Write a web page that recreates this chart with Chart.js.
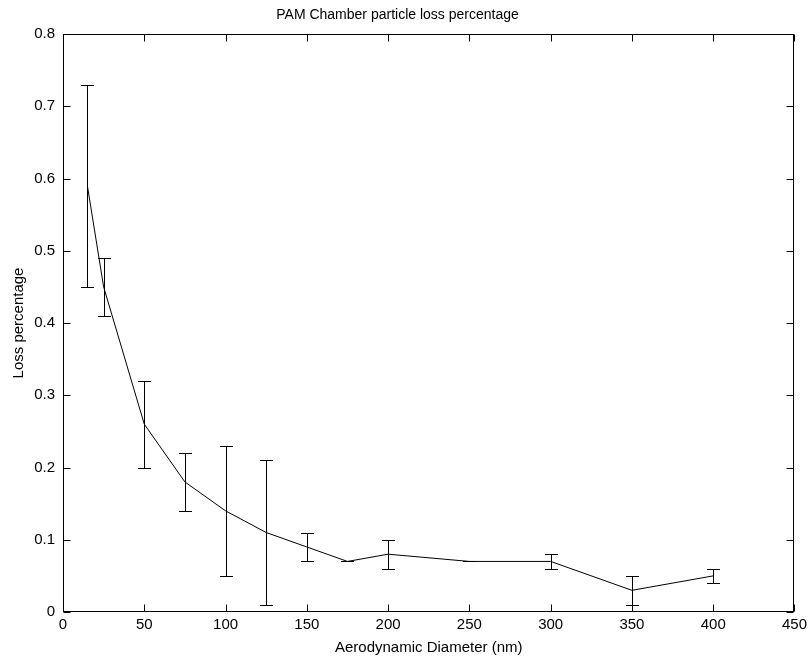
<!DOCTYPE html>
<html>
<head>
<meta charset="utf-8">
<script src="https://cdn.jsdelivr.net/npm/chart.js@4.4.1/dist/chart.umd.min.js"></script>
<style>
  body { margin: 0; background: #fff; }
  #wrap { width: 811px; height: 660px; position: relative; }
</style>
</head>
<body>
<div id="wrap"><canvas id="lossChart" width="811" height="660"></canvas></div>
<script>
// Data
const diameters = [15, 25, 50, 75, 100, 125, 150, 175, 200, 250, 300, 350, 400];
const lossValues = [0.59, 0.45, 0.26, 0.18, 0.14, 0.11, 0.09, 0.07, 0.08, 0.07, 0.07, 0.03, 0.05];
const lossErrors = [0.14, 0.04, 0.06, 0.04, 0.09, 0.10, 0.02, 0, 0.02, 0, 0.01, 0.02, 0.01];
const xTicks = [0, 50, 100, 150, 200, 250, 300, 350, 400, 450];
const yTicks = [0, 0.1, 0.2, 0.3, 0.4, 0.5, 0.6, 0.7, 0.8];

const FONT = 'Liberation Sans, Arial, Helvetica, sans-serif';

// plot box edges in the reference picture
const BOX = { left: 63, right: 795, top: 34, bottom: 612 };

// draws the error bars, the closed box and the inward ticks (matlab look)
const matlabAxes = {
    id: 'matlabAxes',
    afterDatasetsDraw(chart) {
        const ctx = chart.ctx;
        const xs = chart.scales.x;
        const ys = chart.scales.y;
        const area = chart.chartArea;
        ctx.save();
        ctx.strokeStyle = '#000';
        ctx.lineWidth = 1;

        // error bars
        const cap = 6.5;
        for (let i = 0; i < diameters.length; i++) {
            const px = Math.round(xs.getPixelForValue(diameters[i])) + 0.5;
            const yTop = Math.round(ys.getPixelForValue(lossValues[i] + lossErrors[i])) + 0.5;
            const yBot = Math.round(ys.getPixelForValue(lossValues[i] - lossErrors[i])) + 0.5;
            ctx.beginPath();
            ctx.moveTo(px, yTop); ctx.lineTo(px, yBot);
            ctx.moveTo(px - cap, yTop); ctx.lineTo(px + cap, yTop);
            ctx.moveTo(px - cap, yBot); ctx.lineTo(px + cap, yBot);
            ctx.stroke();
        }

        // box
        const l = Math.round(area.left) + 0.5, r = Math.round(area.right) - 0.5;
        const t = Math.round(area.top) + 0.5, b = Math.round(area.bottom) - 0.5;
        ctx.strokeRect(l, t, r - l, b - t);

        // inward ticks on all four sides
        const tl = 7;
        ctx.beginPath();
        xTicks.forEach(function (v) {
            const px = Math.round(xs.getPixelForValue(v)) + 0.5;
            ctx.moveTo(px, b); ctx.lineTo(px, b - tl);
            ctx.moveTo(px, t); ctx.lineTo(px, t + tl);
        });
        yTicks.forEach(function (v) {
            const py = Math.round(ys.getPixelForValue(v)) + 0.5;
            ctx.moveTo(l, py); ctx.lineTo(l + tl, py);
            ctx.moveTo(r, py); ctx.lineTo(r - tl, py);
        });
        ctx.stroke();
        ctx.restore();
    }
};

var ctx = document.getElementById('lossChart').getContext('2d');
var lossChart = new Chart(ctx, {
    type: 'line',
    data: {
        datasets: [{
            label: 'Loss percentage',
            data: diameters.map((d, i) => ({ x: d, y: lossValues[i] })),
            borderColor: '#000',
            borderWidth: 1,
            pointRadius: 0,
            tension: 0,
            fill: false
        }]
    },
    options: {
        responsive: false,
        animation: false,
        layout: { padding: { left: 0, right: 811 - BOX.right, top: 0, bottom: 0 } },
        plugins: {
            legend: { display: false },
            tooltip: { enabled: false },
            title: {
                display: true,
                text: 'PAM Chamber particle loss percentage',
                color: '#000',
                font: { family: FONT, size: 14, weight: 'normal' },
                padding: { top: 7, bottom: 10.2 }
            }
        },
        scales: {
            x: {
                type: 'linear',
                min: 0,
                max: 450,
                afterBuildTicks: function (scale) { scale.ticks = xTicks.map(v => ({ value: v })); },
                afterFit: function (scale) { scale.height = 660 - BOX.bottom; },
                grid: { display: false, drawTicks: false },
                border: { display: false },
                ticks: { color: '#000', padding: 4, maxRotation: 0, font: { family: FONT, size: 15 } },
                title: {
                    display: true,
                    text: 'Aerodynamic Diameter (nm)',
                    color: '#000',
                    padding: { top: 0, bottom: 3 },
                    font: { family: FONT, size: 15 }
                }
            },
            y: {
                type: 'linear',
                min: 0,
                max: 0.8,
                afterBuildTicks: function (scale) { scale.ticks = yTicks.map(v => ({ value: v })); },
                afterFit: function (scale) { scale.width = BOX.left; },
                grid: { display: false, drawTicks: false },
                border: { display: false },
                ticks: { color: '#000', padding: 8, font: { family: FONT, size: 15 } },
                title: {
                    display: true,
                    text: 'Loss percentage',
                    color: '#000',
                    padding: { top: 10, bottom: 0 },
                    font: { family: FONT, size: 15 }
                }
            }
        }
    },
    plugins: [matlabAxes]
});
</script>
</body>
</html>
